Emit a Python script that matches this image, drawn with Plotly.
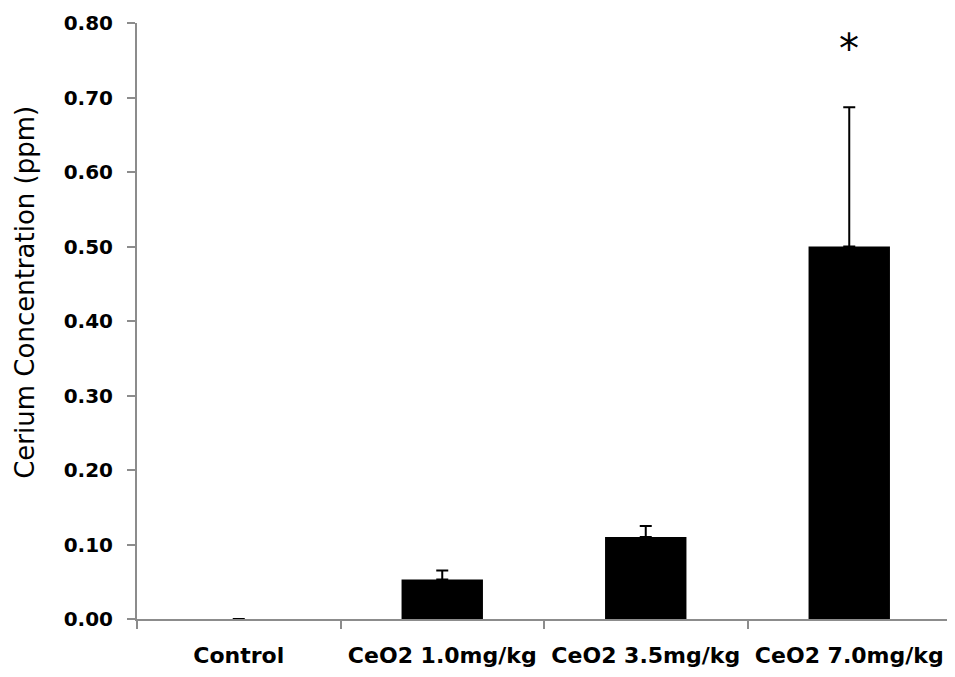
import plotly.graph_objects as go

categories = ["Control", "CeO2 1.0mg/kg", "CeO2 3.5mg/kg", "CeO2 7.0mg/kg"]
values = [0.0, 0.053, 0.110, 0.500]
errors_plus = [None, 0.012, 0.015, 0.187]
errors_minus = [None, 0.0, 0.0, 0.0]
y_ticks = [0.0, 0.1, 0.2, 0.3, 0.4, 0.5, 0.6, 0.7, 0.8]
y_tick_labels = ["0.00", "0.10", "0.20", "0.30", "0.40", "0.50", "0.60", "0.70", "0.80"]
star_category = "CeO2 7.0mg/kg"
star_y = 0.765
y_title = "Cerium Concentration (ppm)"

fig = go.Figure()
fig.add_trace(go.Bar(
    x=categories,
    y=values,
    marker=dict(color="black", line=dict(color="black", width=0)),
    error_y=dict(type="data", symmetric=False, array=errors_plus,
                 arrayminus=errors_minus, color="black", thickness=2, width=6),
))

fig.add_annotation(x=star_category, y=star_y, text="*", showarrow=False,
                   font=dict(family="DejaVu Sans", size=40, color="black"))

fig.add_annotation(xref="paper", yref="paper", x=-0.1376, y=0.549,
                   text=y_title, textangle=-90, showarrow=False,
                   xanchor="center", yanchor="middle",
                   font=dict(family="DejaVu Sans", size=26, color="black"))

fig.update_layout(
    width=947, height=669,
    margin=dict(l=129, r=4, t=15, b=58, autoexpand=False),
    paper_bgcolor="white", plot_bgcolor="white",
    bargap=0.6,
    showlegend=False,
    font=dict(family="DejaVu Sans", color="black"),
)
fig.update_xaxes(
    showline=True, linecolor="#8c8c8c", linewidth=2,
    ticks="outside", tickson="boundaries", ticklen=8, tickcolor="#8c8c8c", tickwidth=2,
    tickfont=dict(family="DejaVu Sans", size=22, color="black", weight="bold"),
    ticklabelstandoff=16,
    showgrid=False, zeroline=False,
)
fig.update_yaxes(
    range=[0, 0.8], tickvals=y_ticks, ticktext=y_tick_labels,
    showline=True, linecolor="#8c8c8c", linewidth=2,
    ticks="outside", ticklen=8, tickcolor="#8c8c8c", tickwidth=2,
    tickfont=dict(family="DejaVu Sans", size=20, color="black", weight="bold"),
    ticklabelstandoff=10,
    showgrid=False, zeroline=False,
)

fig.write_html("out.html")
